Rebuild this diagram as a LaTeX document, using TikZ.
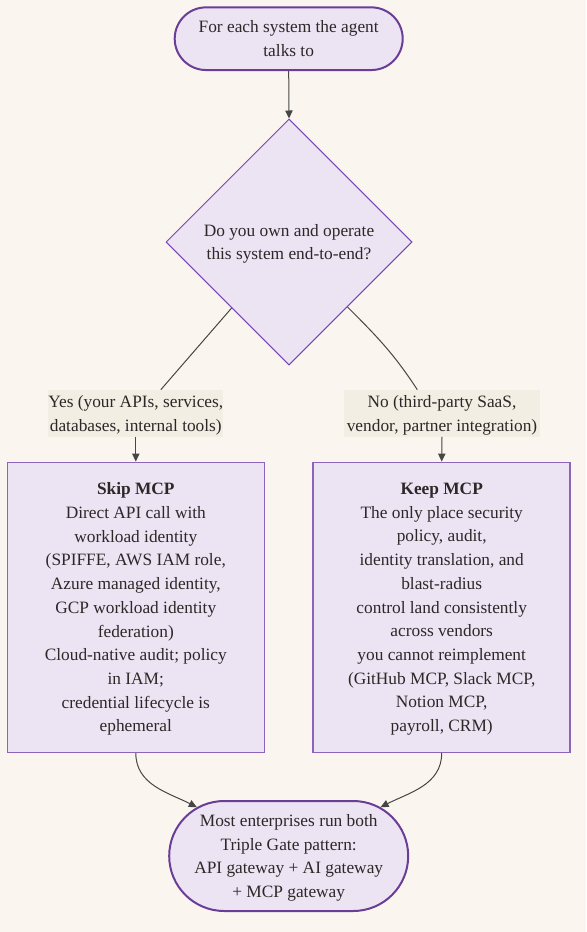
\documentclass[tikz,border=0pt]{standalone}
\usepackage{fontspec}
\setmainfont{Liberation Serif}
\usetikzlibrary{shapes.geometric,shapes.misc,arrows.meta,calc}
\definecolor{bgc}{RGB}{250,246,239}
\definecolor{nodef}{RGB}{236,228,243}
\definecolor{termb}{RGB}{106,62,150}
\definecolor{decb}{RGB}{120,70,180}
\definecolor{boxb}{RGB}{140,100,185}
\definecolor{lblf}{RGB}{243,238,227}
\definecolor{txt}{RGB}{45,40,40}
\definecolor{edgec}{RGB}{70,70,70}
\begin{document}
\begin{tikzpicture}[x=0.75pt,y=-0.75pt,
  base/.style={font=\fontsize{13pt}{17.8pt}\selectfont, text=txt, align=center, text depth=0pt},
  term/.style={base, rounded rectangle, rounded rectangle arc length=180, draw=termb, line width=1.5pt, fill=nodef, inner sep=0pt},
  decision/.style={base, diamond, draw=decb, line width=0.75pt, fill=nodef, inner sep=0pt, minimum width=184.5pt, minimum height=184.5pt},
  procbox/.style={base, rectangle, draw=boxb, line width=1.1pt, fill=nodef, minimum width=192.75pt, minimum height=217.5pt, inner sep=0pt},
  elabel/.style={base, rectangle, fill=lblf, inner sep=0pt, minimum height=35pt},
  edge/.style={draw=edgec, line width=0.75pt},
  arr/.style={edge, -{Triangle[length=6pt,width=5.5pt]}}]
\path[use as bounding box, fill=bgc] (0,0) rectangle (586,932);

\node[term, minimum width=171pt, minimum height=47pt] (top) at (288.7,38.7)
  {For each system the agent\\talks to};
\node[decision] (q) at (289,242)
  {Do you own and operate\\this system end-to-end?};
\node[elabel, minimum width=131.25pt] (yes) at (135.8,413.3)
  {Yes (your APIs, services,\\databases, internal tools)};
\node[elabel, minimum width=147pt] (no) at (442,413.3)
  {No (third-party SaaS,\\vendor, partner integration)};
\node[procbox] (skip) at (135.8,607.3)
  {\textbf{Skip MCP}\\Direct API call with\\workload identity\\(SPIFFE, AWS IAM role,\\Azure managed identity,\\GCP workload identity\\federation)\\Cloud-native audit; policy\\in IAM;\\credential lifecycle is\\ephemeral};
\node[procbox] (keep) at (441.7,607.3)
  {\textbf{Keep MCP}\\The only place security\\policy, audit,\\identity translation, and\\blast-radius\\control land consistently\\across vendors\\you cannot reimplement\\(GitHub MCP, Slack MCP,\\Notion MCP,\\payroll, CRM)};
\node[term, minimum width=179.25pt, minimum height=82.5pt] (g) at (288.7,856)
  {Most enterprises run both\\Triple Gate pattern:\\API gateway + AI gateway\\+ MCP gateway};

\coordinate (yesin) at ($(yes.north)+(25,0)$);
\coordinate (noin) at ($(no.north)+(-24.7,0)$);

\draw[arr] (top.south) -- (q.north);
\draw[edge] (q.-131) -- (yesin);
\draw[edge] (q.-48) to[out=-45,in=123] (noin);
\draw[arr] (yes.south) -- (skip.north);
\draw[arr] (no.south) -- (keep.north);
\draw[arr] (skip.south) to[out=-90,in=153] (g.152);
\draw[arr] (keep.south) to[out=-90,in=27] (g.28);
\end{tikzpicture}
\end{document}
